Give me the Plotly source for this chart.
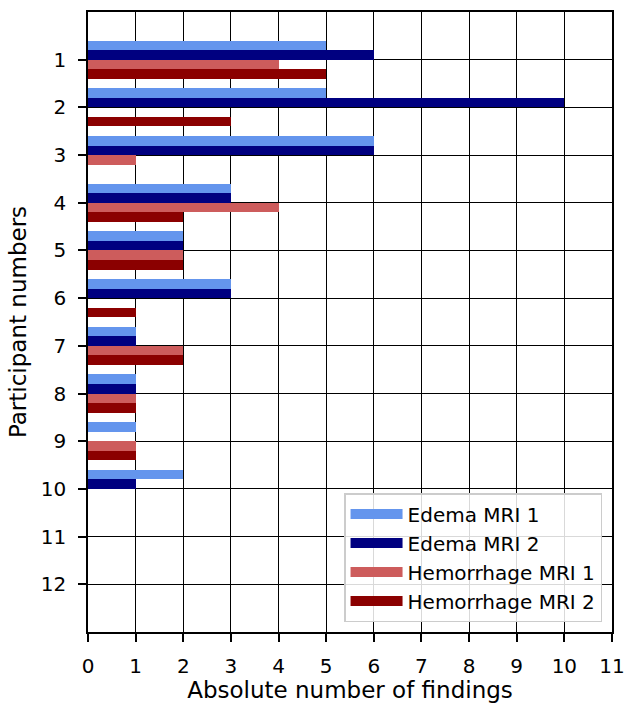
import plotly.graph_objects as go

participants = [1, 2, 3, 4, 5, 6, 7, 8, 9, 10, 11, 12]
edema_mri1 = [5, 5, 6, 3, 2, 3, 1, 1, 1, 2, 0, 0]
edema_mri2 = [6, 10, 6, 3, 2, 3, 1, 1, 0, 1, 0, 0]
hemorrhage_mri1 = [4, 0, 1, 4, 2, 0, 2, 1, 1, 0, 0, 0]
hemorrhage_mri2 = [5, 3, 0, 2, 2, 1, 2, 1, 1, 0, 0, 0]
series_names = ["Edema MRI 1", "Edema MRI 2", "Hemorrhage MRI 1", "Hemorrhage MRI 2"]
x_ticks = list(range(0, 12))

series = [edema_mri1, edema_mri2, hemorrhage_mri1, hemorrhage_mri2]
colors = ["#6495ED", "#000080", "#CD5C5C", "#8B0000"]
offsets = [-0.3, -0.1, 0.1, 0.3]
bar_h = 0.2

fig = go.Figure()
for name, vals, col, off in zip(series_names, series, colors, offsets):
    fig.add_trace(go.Bar(
        x=vals, y=[p + off for p in participants], orientation="h",
        width=bar_h, marker=dict(color=col, line=dict(width=0)),
        name=name, showlegend=False,
    ))
for i, (name, col) in enumerate(zip(series_names, colors)):
    fig.add_trace(go.Scatter(
        x=[None], y=[None], mode="lines", line=dict(color=col, width=14),
        name=name, legendgroup=f"g{i}", showlegend=True,
    ))

font = "DejaVu Sans"
fig.update_layout(
    width=627, height=703,
    margin=dict(l=88, r=15, t=12, b=71),
    paper_bgcolor="white", plot_bgcolor="white",
    barmode="overlay", bargap=0,
    font=dict(family=font, size=20, color="black"),
    legend=dict(
        x=0.981, y=0.016, xanchor="right", yanchor="bottom",
        bgcolor="rgba(255,255,255,0.85)", bordercolor="#cccccc", borderwidth=1.5,
        font=dict(family=font, size=20, color="black"),
        tracegroupgap=0, itemwidth=52,
    ),
    xaxis=dict(
        range=[0, 11], tickvals=x_ticks, ticktext=[str(t) for t in x_ticks],
        tickfont=dict(size=20),
        showgrid=True, gridcolor="black", gridwidth=1,
        showline=True, linecolor="black", linewidth=1.5, mirror=True,
        ticks="outside", ticklen=8, tickwidth=1.5, tickcolor="black",
        ticklabelstandoff=7, automargin=False,
        zeroline=False, layer="above traces",
        title=dict(text="Absolute number of findings", font=dict(size=23), standoff=9),
    ),
    yaxis=dict(
        range=[13, 0], tickvals=participants, ticktext=[str(p) for p in participants],
        tickfont=dict(size=20),
        showgrid=True, gridcolor="black", gridwidth=1,
        showline=True, linecolor="black", linewidth=1.5, mirror=True,
        ticks="outside", ticklen=8, tickwidth=1.5, tickcolor="black",
        ticklabelstandoff=8, automargin=False,
        zeroline=False, layer="above traces",
        title=dict(text="Participant numbers", font=dict(size=23), standoff=8),
    ),
)

fig.write_html(
    "out.html",
    config={"displayModeBar": False},
    post_script="document.body.style.margin='0';document.body.style.overflow='hidden';",
)
